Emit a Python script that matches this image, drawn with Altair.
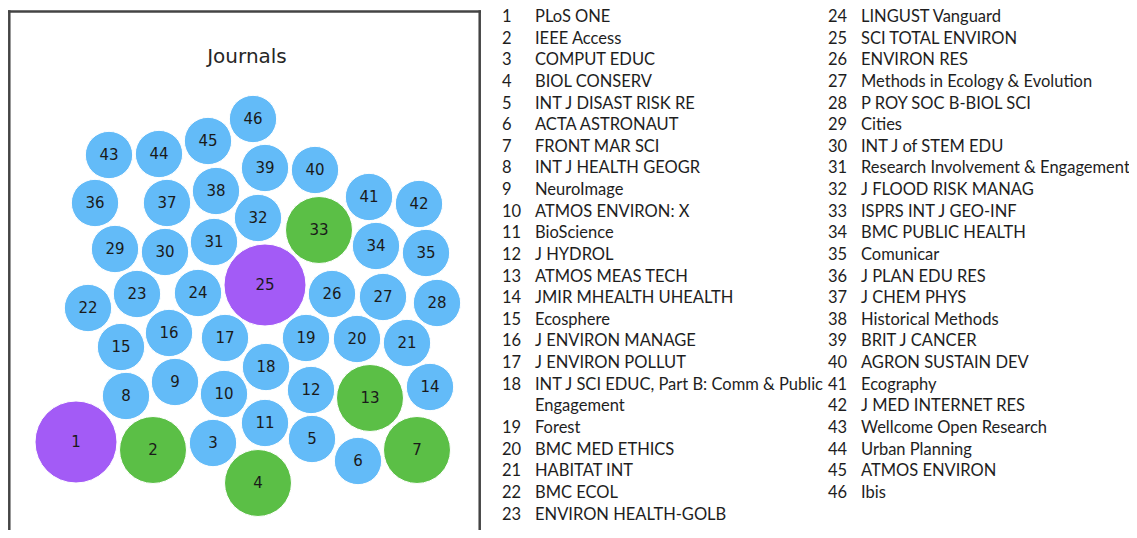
import altair as alt
import pandas as pd

# ---------------- data ----------------
journal_ids = list(range(1, 47))
journal_names = [
    "PLoS ONE", "IEEE Access", "COMPUT EDUC", "BIOL CONSERV", "INT J DISAST RISK RE",
    "ACTA ASTRONAUT", "FRONT MAR SCI", "INT J HEALTH GEOGR", "NeuroImage", "ATMOS ENVIRON: X",
    "BioScience", "J HYDROL", "ATMOS MEAS TECH", "JMIR MHEALTH UHEALTH", "Ecosphere",
    "J ENVIRON MANAGE", "J ENVIRON POLLUT", "INT J SCI EDUC, Part B: Comm & Public\n Engagement",
    "Forest", "BMC MED ETHICS", "HABITAT INT", "BMC ECOL", "ENVIRON HEALTH-GOLB",
    "LINGUST Vanguard", "SCI TOTAL ENVIRON", "ENVIRON RES", "Methods in Ecology & Evolution",
    "P ROY SOC B-BIOL SCI", "Cities", "INT J of STEM EDU", "Research Involvement & Engagement",
    "J FLOOD RISK MANAG", "ISPRS INT J GEO-INF", "BMC PUBLIC HEALTH", "Comunicar",
    "J PLAN EDU RES", "J CHEM PHYS", "Historical Methods", "BRIT J CANCER", "AGRON SUSTAIN DEV",
    "Ecography", "J MED INTERNET RES", "Wellcome Open Research", "Urban Planning",
    "ATMOS ENVIRON", "Ibis",
]
paper_counts = [
    3, 2, 1, 2, 1, 1, 2, 1, 1, 1,
    1, 1, 2, 1, 1, 1, 1, 1, 1, 1,
    1, 1, 1, 1, 3, 1, 1, 1, 1, 1,
    1, 1, 2, 1, 1, 1, 1, 1, 1, 1,
    1, 1, 1, 1, 1, 1,
]
# packed-bubble layout (centre positions)
bubble_x = [
    76, 153, 213, 258, 312, 358, 417, 126, 175, 224,
    265, 311, 370, 430, 121, 169, 225, 266, 306, 357,
    407, 88, 137, 198, 265, 332, 383, 437, 115, 165,
    214, 258, 319, 376, 426, 95, 167, 216, 265, 315,
    369, 419, 109, 159, 208, 253,
]
bubble_y = [
    442, 450, 443, 483, 439, 461, 450, 396, 382, 394,
    423, 390, 398, 387, 347, 333, 338, 367, 338, 339,
    343, 308, 294, 293, 285, 294, 297, 303, 249, 252,
    242, 218, 230, 246, 253, 203, 203, 191, 168, 170,
    197, 204, 155, 154, 141, 119,
]
count_levels = [1, 2, 3]
count_colors = ["#63bbf8", "#5bbf46", "#a35bf6"]
column_break = 24
panel_title = "Journals"

# ---------------- frames ----------------
bubbles = pd.DataFrame({
    "id": journal_ids,
    "label": [str(i) for i in journal_ids],
    "count": paper_counts,
    "bx": bubble_x,
    "by": bubble_y,
})

rows = []
col, line = 0, 0
for jid, name in zip(journal_ids, journal_names):
    if jid == column_break:
        col, line = 1, 0
    for k, part in enumerate(name.split("\n")):
        rows.append({"col": col, "line": line, "num": str(jid) if k == 0 else "", "name": part})
        line += 1
legend_df = pd.DataFrame(rows)

W, H = 1121, 522

# ---------------- bubble panel ----------------
xs = alt.X("bx:Q", scale=alt.Scale(domain=[8, 8 + W], nice=False, zero=False), axis=None)
ys = alt.Y("by:Q", scale=alt.Scale(domain=[8 + H, 8], nice=False, zero=False), axis=None)

circles = alt.Chart(bubbles).mark_circle(opacity=1, stroke="white", strokeWidth=1).encode(
    x=xs,
    y=ys,
    size=alt.Size("count:Q", scale=alt.Scale(domain=[0, 3], range=[0, 6724]), legend=None),
    color=alt.Color("count:O", scale=alt.Scale(domain=count_levels, range=count_colors), legend=None),
    order=alt.Order("id:Q"),
)
labels = alt.Chart(bubbles).mark_text(
    font="DejaVu Sans", fontSize=15, color="#1a1a1a", align="center", baseline="middle"
).encode(x=xs, y=ys, text="label:N")
bubble_layer = alt.layer(circles, labels)

title = alt.Chart(pd.DataFrame({"t": [panel_title]})).mark_text(
    font="DejaVu Sans", fontSize=20, color="#262626", align="center", baseline="middle"
).encode(x=alt.value(239), y=alt.value(49), text="t:N")

border_color = "#444444"
edge_df = pd.DataFrame({"e": [0]})
left_edge = alt.Chart(edge_df).mark_rule(color=border_color, strokeWidth=2.5).encode(
    x=alt.value(1.3), y=alt.value(2.3), y2=alt.value(H))
right_edge = alt.Chart(edge_df).mark_rule(color=border_color, strokeWidth=2.5).encode(
    x=alt.value(471.7), y=alt.value(2.3), y2=alt.value(H))
top_edge = alt.Chart(edge_df).mark_rule(color=border_color, strokeWidth=2.5).encode(
    x=alt.value(0), x2=alt.value(472.9), y=alt.value(3.5))

# ---------------- journal list ----------------
lx = alt.X("col:Q", scale=alt.Scale(domain=[0, 1], range=[494, 820]), axis=None)
ly = alt.Y("line:Q", scale=alt.Scale(domain=[0, 23], range=[9, 506.5]), axis=None)
txt = dict(font="Lato", fontSize=16.5, color="#1e1e1e", align="left", baseline="middle")
nums = alt.Chart(legend_df).mark_text(**txt).encode(x=lx, y=ly, text="num:N")
names = alt.Chart(legend_df).mark_text(dx=33, **txt).encode(x=lx, y=ly, text="name:N")
list_layer = alt.layer(nums, names)

chart = alt.layer(bubble_layer, list_layer, title, left_edge, right_edge, top_edge).resolve_scale(
    x="independent", y="independent"
).properties(
    width=W, height=H, padding=0, autosize=alt.AutoSizeParams(type="none")
).configure_view(stroke="transparent")
chart.save("out.html", embed_options={"renderer": "svg", "actions": False})
